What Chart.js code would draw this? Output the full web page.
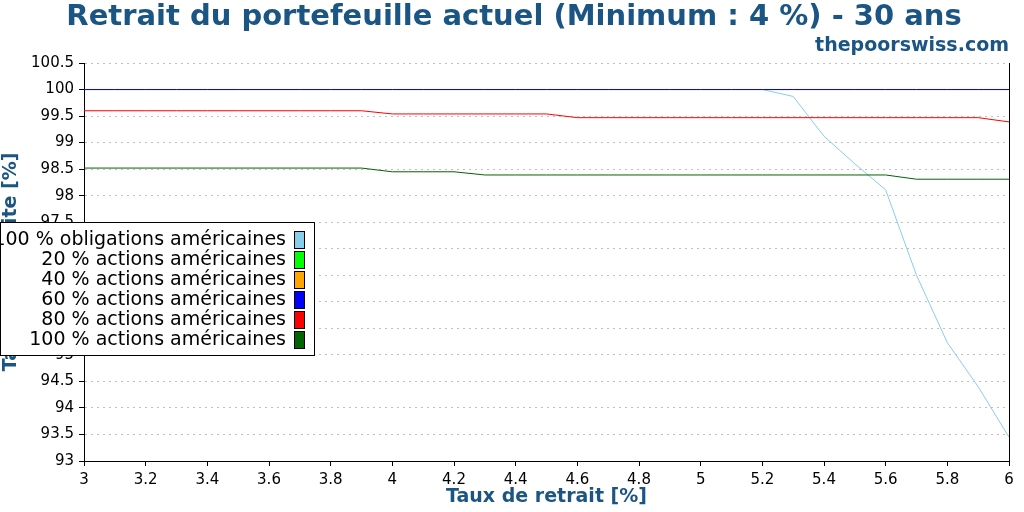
<!DOCTYPE html>
<html>
<head>
<meta charset="utf-8">
<script src="https://cdn.jsdelivr.net/npm/chart.js@4"></script>
<style>
  html, body { margin: 0; padding: 0; background: #fff; }
  #wrap { width: 1024px; height: 512px; }
</style>
</head>
<body>
<div id="wrap"><canvas id="myChart" width="1024" height="512"></canvas></div>
<script>
// taux de retrait (x)
var rates = [3.0, 3.1, 3.2, 3.3, 3.4, 3.5, 3.6, 3.7, 3.8, 3.9,
             4.0, 4.1, 4.2, 4.3, 4.4, 4.5, 4.6, 4.7, 4.8, 4.9,
             5.0, 5.1, 5.2, 5.3, 5.4, 5.5, 5.6, 5.7, 5.8, 5.9, 6.0];

// taux de reussite par allocation
var bonds100 = [100, 100, 100, 100, 100, 100, 100, 100, 100, 100,
                100, 100, 100, 100, 100, 100, 100, 100, 100, 100,
                100, 100, 100, 99.87, 99.12, 98.6, 98.11, 96.5, 95.23, 94.4, 93.45];
var stocks20 = [100, 100, 100, 100, 100, 100, 100, 100, 100, 100,
                100, 100, 100, 100, 100, 100, 100, 100, 100, 100,
                100, 100, 100, 100, 100, 100, 100, 100, 100, 100, 100];
var stocks40 = [100, 100, 100, 100, 100, 100, 100, 100, 100, 100,
                100, 100, 100, 100, 100, 100, 100, 100, 100, 100,
                100, 100, 100, 100, 100, 100, 100, 100, 100, 100, 100];
var stocks60 = [100, 100, 100, 100, 100, 100, 100, 100, 100, 100,
                100, 100, 100, 100, 100, 100, 100, 100, 100, 100,
                100, 100, 100, 100, 100, 100, 100, 100, 100, 100, 100];
var stocks80 = [99.6, 99.6, 99.6, 99.6, 99.6, 99.6, 99.6, 99.6, 99.6, 99.6,
                99.54, 99.54, 99.54, 99.54, 99.54, 99.54, 99.47, 99.47, 99.47, 99.47,
                99.47, 99.47, 99.47, 99.47, 99.47, 99.47, 99.47, 99.47, 99.47, 99.47, 99.39];
var stocks100 = [98.52, 98.52, 98.52, 98.52, 98.52, 98.52, 98.52, 98.52, 98.52, 98.52,
                 98.45, 98.45, 98.45, 98.39, 98.39, 98.39, 98.39, 98.39, 98.39, 98.39,
                 98.39, 98.39, 98.39, 98.39, 98.39, 98.39, 98.39, 98.31, 98.31, 98.31, 98.31];

var seriesNames = ['100 % obligations américaines', '20 % actions américaines',
                   '40 % actions américaines', '60 % actions américaines',
                   '80 % actions américaines', '100 % actions américaines'];
var seriesColors = ['#87ceeb', '#00ff00', '#ffa500', '#0000ff', '#ff0000', '#006400'];

var titleText = 'Retrait du portefeuille actuel (Minimum : 4 %) - 30 ans';
var subText = 'thepoorswiss.com';
var xTitle = 'Taux de retrait [%]';
var yTitle = 'Taux de réussite [%]';
var blueText = '#1b5583';

var toPoints = function (values) {
    return values.map(function (v, i) { return {x: rates[i], y: v}; });
};

var allSeries = [bonds100, stocks20, stocks40, stocks60, stocks80, stocks100];
var datasets = allSeries.map(function (values, i) {
    return {
        label: seriesNames[i],
        data: toPoints(values),
        borderColor: seriesColors[i],
        backgroundColor: seriesColors[i],
        borderWidth: 1,
        pointRadius: 0,
        tension: 0,
        fill: false,
        // la derniere serie est dessinee au-dessus
        order: allSeries.length - i
    };
});

var shortNumber = function (value) {
    return String(Math.round(value * 10) / 10);
};

// titre + legende encadree a gauche, bord droit
var decoPlugin = {
    id: 'deco',
    afterDraw: function (chart) {
        var ctx = chart.ctx;
        var area = chart.chartArea;
        ctx.save();

        ctx.strokeStyle = '#000';
        ctx.lineWidth = 1;
        ctx.beginPath();
        ctx.moveTo(Math.round(area.right) + 0.5, area.top);
        ctx.lineTo(Math.round(area.right) + 0.5, area.bottom);
        ctx.stroke();

        ctx.fillStyle = blueText;
        ctx.textAlign = 'center';
        ctx.textBaseline = 'middle';
        ctx.font = 'bold 29px "DejaVu Sans"';
        ctx.fillText(titleText, 514, 17);
        ctx.textAlign = 'right';
        ctx.font = 'bold 19px "DejaVu Sans"';
        ctx.fillText(subText, 1009, 46);

        // legende
        ctx.fillStyle = '#fff';
        ctx.fillRect(0, 222, 315, 134);
        ctx.strokeStyle = '#000';
        ctx.strokeRect(0.5, 222.5, 314, 133);
        ctx.font = '19px "DejaVu Sans"';
        ctx.textAlign = 'right';
        chart.data.datasets.forEach(function (ds, i) {
            var y = 240 + i * 20;
            ctx.fillStyle = '#000';
            ctx.fillText(ds.label, 286, y);
            ctx.fillStyle = ds.borderColor;
            ctx.fillRect(294.5, y - 8.5, 10, 17);
            ctx.strokeStyle = '#000';
            ctx.strokeRect(294.5, y - 8.5, 10, 17);
        });
        ctx.restore();
    }
};

var ctx = document.getElementById('myChart');
var chart = new Chart(ctx, {
    type: 'line',
    data: { datasets: datasets },
    options: {
        responsive: false,
        animation: false,
        devicePixelRatio: 1,
        layout: { padding: { left: 0, top: 63, right: 15, bottom: 0 } },
        plugins: {
            legend: { display: false },
            title: { display: false },
            tooltip: { enabled: false }
        },
        scales: {
            x: {
                type: 'linear',
                min: 3,
                max: 6,
                afterFit: function (scale) { scale.height = 51; },
                ticks: {
                    stepSize: 0.2,
                    color: '#000',
                    padding: 5,
                    maxRotation: 0,
                    font: { family: 'DejaVu Sans', size: 15 },
                    callback: shortNumber
                },
                grid: {
                    drawOnChartArea: false,
                    drawTicks: true,
                    tickLength: 5,
                    tickColor: '#000'
                },
                border: { display: true, color: '#000', width: 1 },
                title: {
                    display: true,
                    text: xTitle,
                    color: blueText,
                    font: { family: 'DejaVu Sans', size: 19, weight: 'bold' },
                    padding: { top: 0, bottom: 4 }
                }
            },
            y: {
                min: 93,
                max: 100.5,
                afterFit: function (scale) { scale.width = 84; },
                ticks: {
                    stepSize: 0.5,
                    color: '#000',
                    padding: 5,
                    font: { family: 'DejaVu Sans', size: 15 },
                    callback: shortNumber
                },
                grid: {
                    color: '#c0c0c0',
                    tickColor: '#000',
                    tickLength: 5,
                    lineWidth: 1
                },
                border: { display: true, color: '#000', width: 1, dash: [2, 4] },
                title: {
                    display: true,
                    text: yTitle,
                    color: blueText,
                    font: { family: 'DejaVu Sans', size: 19, weight: 'bold' },
                    padding: { top: 0, bottom: 0 }
                }
            }
        }
    },
    plugins: [decoPlugin]
});
</script>
</body>
</html>
